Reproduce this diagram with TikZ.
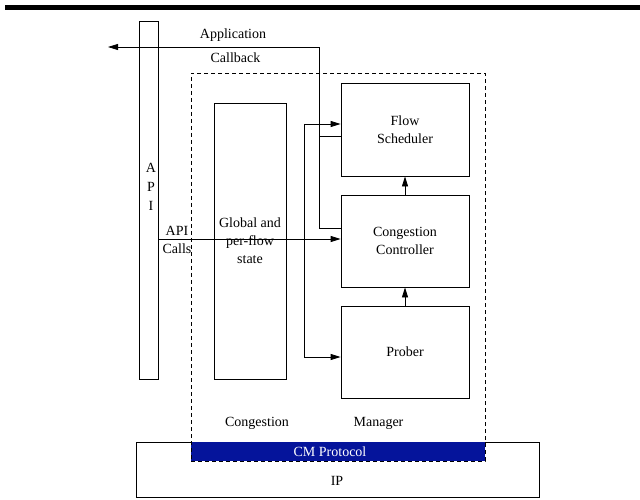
\documentclass[tikz,border=0pt]{standalone}
\usepackage{fontspec}
\setmainfont{Liberation Serif}
\usetikzlibrary{arrows.meta}
\definecolor{cmblue}{RGB}{5,20,155}
\begin{document}
\begin{tikzpicture}[x=1pt,y=-1pt,
  line width=0.8pt,
  font=\fontsize{14}{18}\selectfont,
  box/.style={draw, inner sep=0pt, align=center},
  lbl/.style={inner sep=0pt, align=center},
  arr/.style={-{Triangle[length=10pt,width=6pt]}},
  ln/.style={draw}
]
\useasboundingbox (0,0) rectangle (640,500);
% top bar
\fill (5,5) rectangle (640,10);
% IP
\node[box, minimum width=403pt, minimum height=55pt] (ip) at (337.5,469.5) {};
\node[lbl] (iptxt) at (337,481) {IP};
% CM Protocol band
\node[fill=cmblue, inner sep=0pt, minimum width=294pt, minimum height=19pt] (cmp) at (338,451.5) {};
\node[lbl, text=white] (cmptxt) at (330,452) {CM Protocol};
% dashed manager box
\node[draw, dashed, dash pattern=on 4pt off 3pt, inner sep=0pt, minimum width=294pt, minimum height=388pt] (cm) at (338,267) {};
\node[lbl] (cong) at (257,423) {Congestion};
\node[lbl] (mgr) at (378.5,423) {Manager};
% API bar
\node[box, minimum width=19pt, minimum height=358pt] (api) at (148.5,200) {};
\node[lbl, font=\fontsize{14}{19}\selectfont] (apitxt) at (151,187) {A\\P\\I};
% Global state
\node[box, minimum width=72pt, minimum height=276pt] (glob) at (250,241) {Global and\\per-flow\\state};
% right boxes
\node[box, minimum width=128pt, minimum height=93pt] (fs) at (405,129.5) {Flow\\Scheduler};
\node[box, minimum width=128pt, minimum height=92pt] (cc) at (405,241) {Congestion\\Controller};
\node[box, minimum width=128pt, minimum height=92pt] (pr) at (405,352) {Prober};
% labels
\node[lbl] (applbl) at (233,35) {Application};
\node[lbl] (cblbl) at (235.5,58) {Callback};
\node[lbl] (calllbl) at (177,240) {API\\Calls};
% vertical arrows
\draw[arr] (pr.north) -- (cc.south);
\draw[arr] (cc.north) -- (fs.south);
% API calls
\draw[arr] (api.east |- 0,239) -- (cc.west |- 0,239);
% application callback
\coordinate (cbend) at (108,47);
\draw[arr] (cc.west |- 0,228) -- (319,228) -- (319,47) -- (cbend);
\draw (fs.west |- 0,136) -- (319,136);
% scheduler / prober feed
\draw[arr] (304,124) -- (fs.west |- 0,124);
\draw[arr] (304,124) -- (304,357) -- (pr.west |- 0,357);
\end{tikzpicture}
\end{document}
